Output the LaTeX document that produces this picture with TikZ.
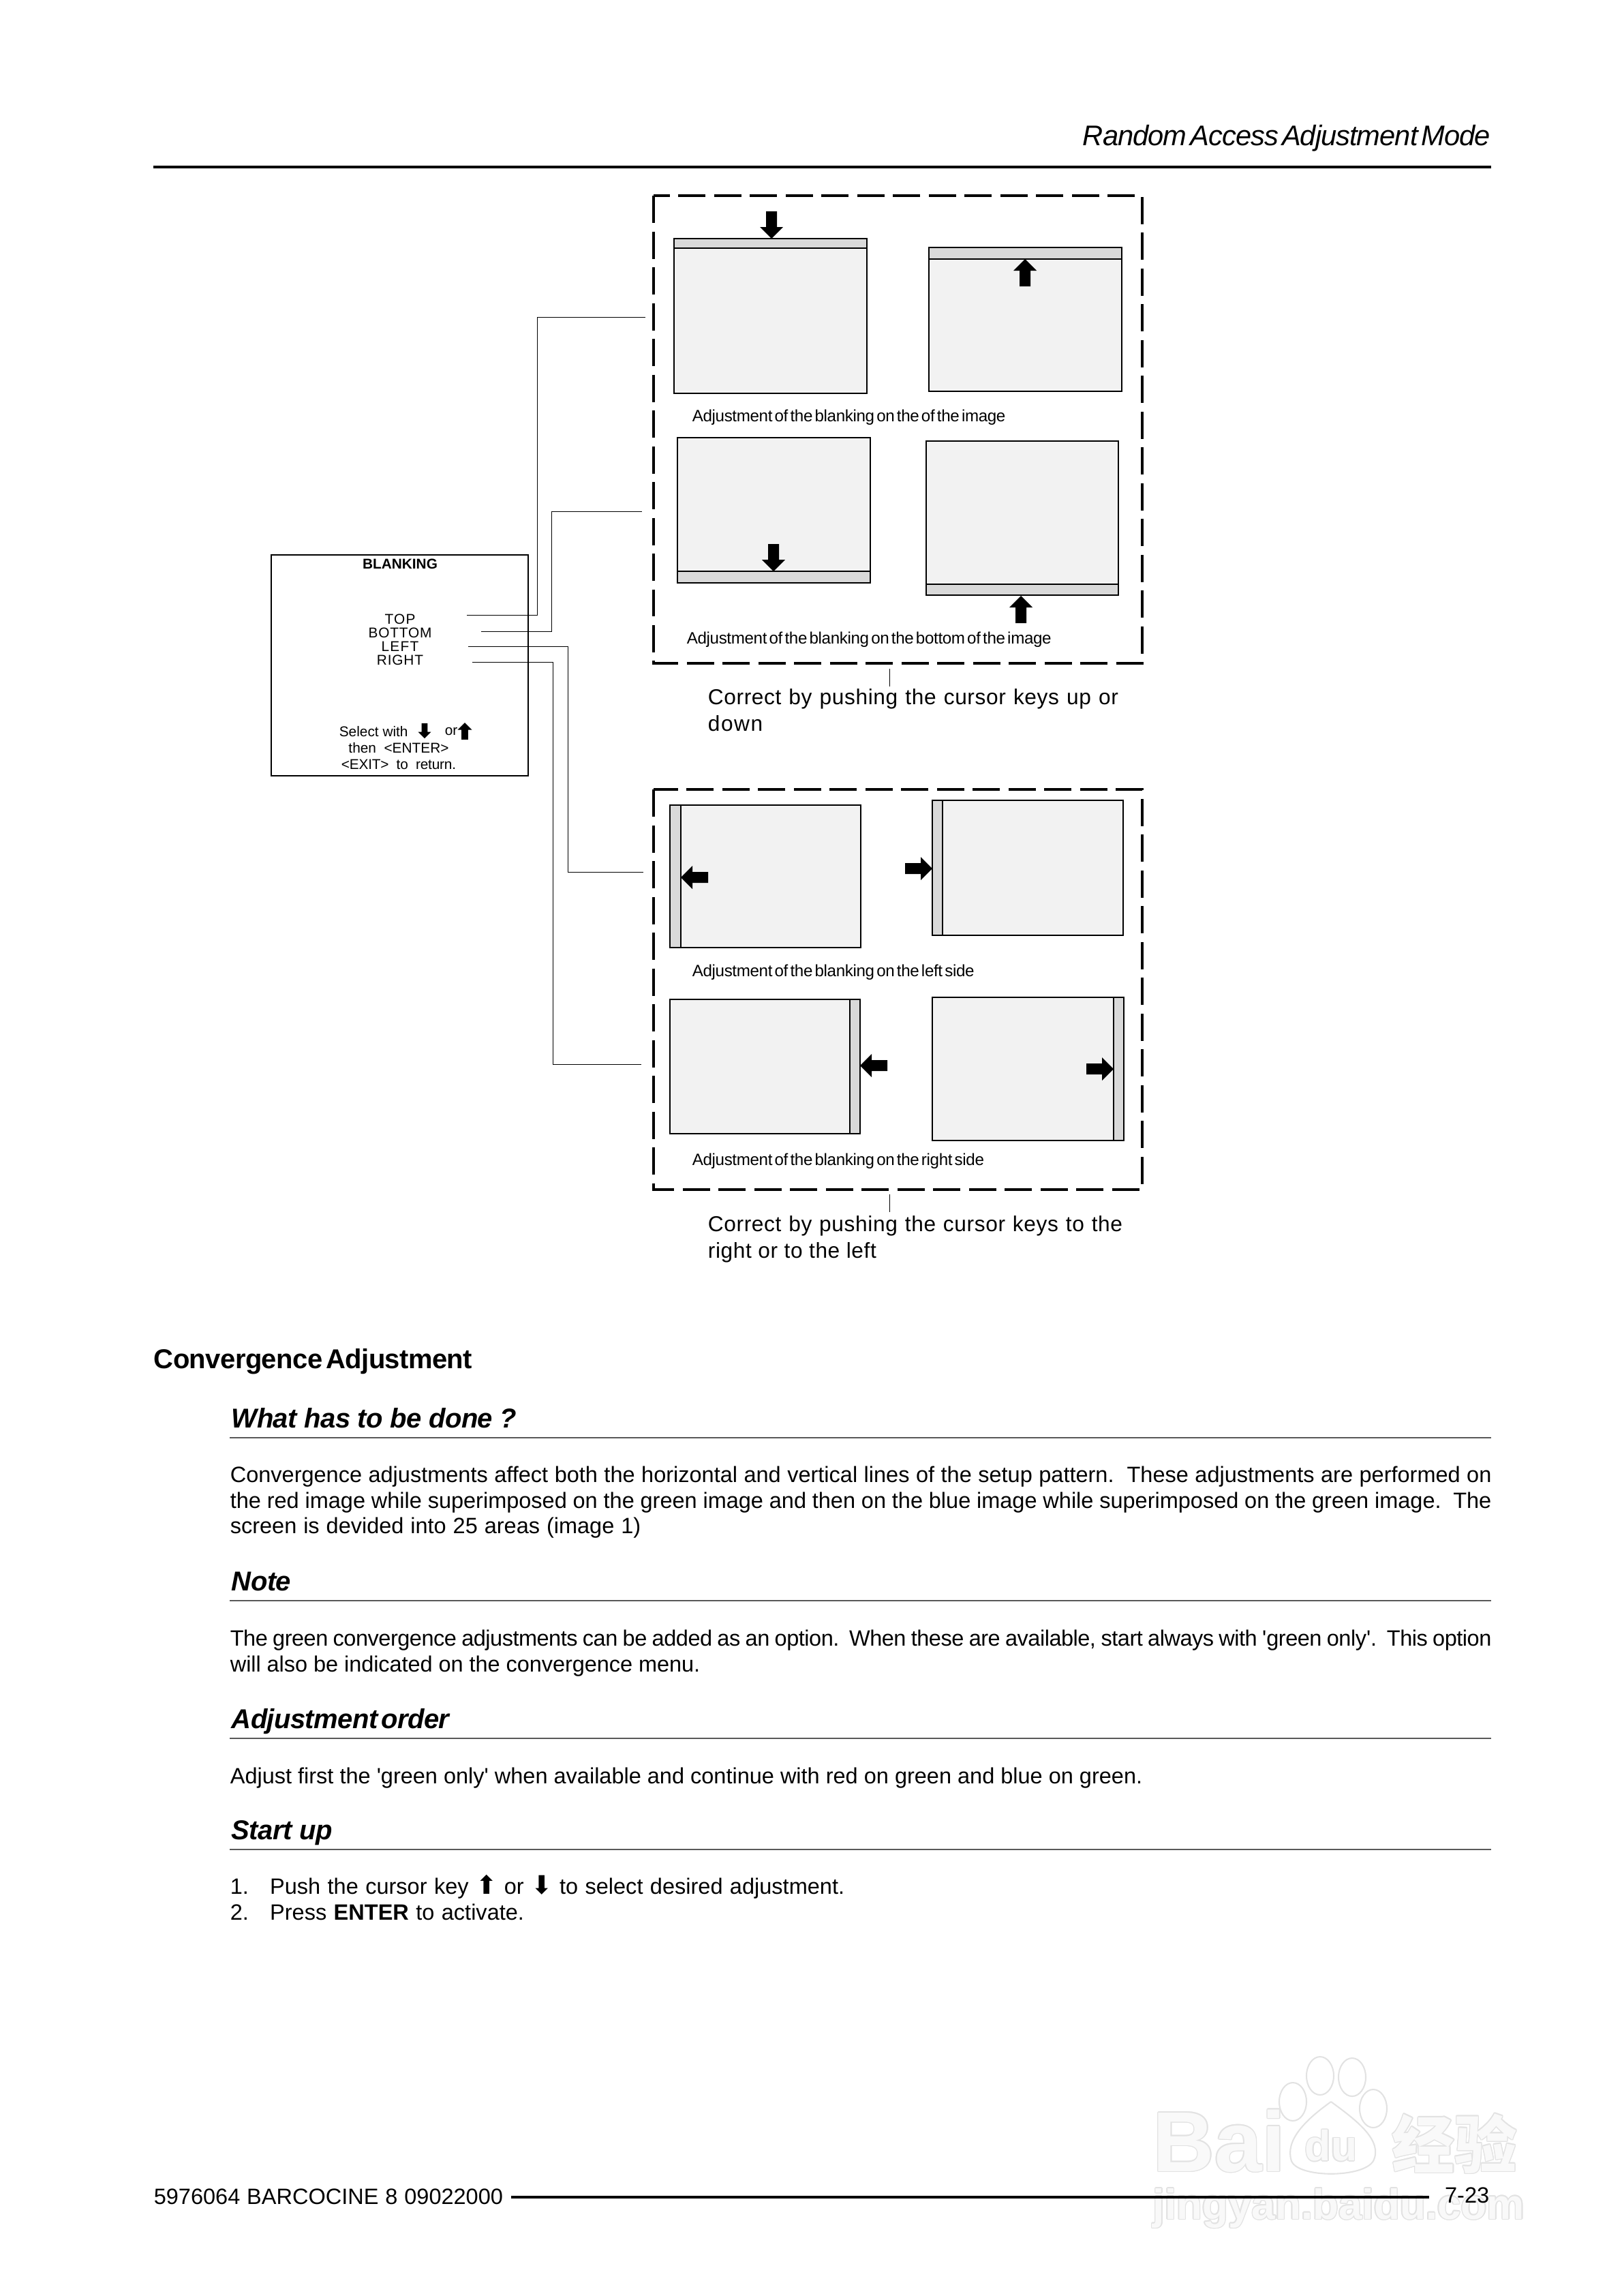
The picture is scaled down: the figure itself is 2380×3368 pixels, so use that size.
\documentclass[tikz,border=0pt]{standalone}
\usepackage{fontspec}
\setmainfont{Liberation Sans}
\newfontfamily\tightfont[LetterSpace=-1.5,WordSpace=0.5]{Liberation Sans}
\newfontfamily\headfont[LetterSpace=-1.4]{Liberation Sans}
\newfontfamily\widefont[WordSpace=1.1]{Liberation Sans}
\newfontfamily\listfont[LetterSpace=0.05,WordSpace=1.15]{Liberation Sans}
\newfontfamily\arrowfont{DejaVu Sans}
\newfontfamily\cjkfont{Noto Sans CJK SC}
\usepackage{xcolor}
\usepackage{contour}
\contournumber{16}
\contourlength{0.35pt}
\usepackage{tikz}
\usetikzlibrary{positioning,arrows.meta,calc}

\definecolor{screenfill}{HTML}{F2F2F2}
\definecolor{bandfill}{HTML}{D9D9D9}
\definecolor{markcolor}{HTML}{E2E2E2}

\newcommand{\keyarrow}[4][1]{\fill[shift={(#2,#3)},rotate=#4,scale=#1] (0,0) -- (-17,-17) -- (-8,-17) -- (-8,-40) -- (8,-40) -- (8,-17) -- (17,-17) -- cycle;}
\newcommand{\markword}[1]{\textcolor{white}{\contour{markcolor}{#1}}}
\newcommand{\upkey}{\smash{\fontsize{9}{9}\selectfont\arrowfont ⬆}}
\newcommand{\downkey}{\smash{\fontsize{9}{9}\selectfont\arrowfont ⬇}}

\tikzset{
  screen/.style={draw=black, fill=screenfill, line width=0.3pt},
  band/.style={draw=black, fill=bandfill, line width=0.3pt},
  dashbox/.style={draw=black, line width=1.1pt, dash pattern=on 9.6pt off 3pt},
  leader/.style={draw=black, line width=0.22pt},
  toprule/.style={draw=black, line width=0.9pt},
  headrule/.style={draw=black!65, line width=0.3pt},
  menutext/.style={inner sep=0pt, font=\fontsize{5}{5}\selectfont},
  captext/.style={inner sep=0pt, anchor=base west, font=\fontsize{5.8}{6}\selectfont\tightfont},
  corrtext/.style={inner sep=0pt, anchor=north west, align=justify, font=\fontsize{7.6}{9.4}\selectfont\addfontfeature{LetterSpace=2}},
  heading/.style={inner sep=0pt, anchor=base west, font=\fontsize{9.6}{11}\selectfont\headfont\bfseries\itshape},
  bodytext/.style={inner sep=0pt, anchor=north west, text width=444.2pt, align=justify, font=\fontsize{7.8}{9.05}\selectfont},
  wmark/.style={inner sep=0pt, opacity=0.8, text opacity=0.8},
}

\begin{document}
\begin{tikzpicture}[x=0.24pt, y=-0.24pt]
  \useasboundingbox (0,0) rectangle (2380,3368);

  \node[wmark, anchor=base west, font=\fontsize{30}{30}\selectfont\bfseries] (markbai) at (1691,3185) {\markword{Bai}};
  \node[wmark, font=\fontsize{15}{15}\selectfont\bfseries] (markdu) at (1953,3148) {\markword{du}};
  \node[wmark, anchor=base west, font=\fontsize{22}{22}\selectfont\cjkfont\bfseries] (markjy) at (2042,3180) {\markword{经验}};
  \node[wmark, anchor=base west, font=\fontsize{14.9}{16}\selectfont\bfseries] (markurl) at (1691,3255) {\markword{jingyan.baidu.com}};
  \foreach \pawx/\pawy in {1897/3083, 1937/3045, 1984/3047, 2015/3093}
    \draw[markcolor, line width=0.5pt] (\pawx,\pawy) ellipse [x radius=20, y radius=28];
  \draw[markcolor, line width=0.5pt] (1953,3083) .. controls (1915,3110) and (1885,3140) .. (1895,3170) .. controls (1905,3195) and (2000,3195) .. (2015,3170) .. controls (2030,3140) and (1990,3110) .. (1953,3083);

  \node[inner sep=0pt, anchor=base east, font=\fontsize{10}{12}\selectfont\itshape\tightfont\addfontfeature{LetterSpace=-2.4}] (pagetitle) at (2188,213) {Random Access Adjustment Mode};
  \draw[toprule] (225,245) -- (2188,245);

  \draw[dashbox] (959,287) rectangle (1676,973);
  \draw[screen] (989,350) rectangle (1272,577);
  \draw[band] (989,350) rectangle (1272,364);
  \draw[screen] (1363,363) rectangle (1646,574);
  \draw[band] (1363,363) rectangle (1646,380);
  \draw[screen] (994,642) rectangle (1277,855);
  \draw[band] (994,838) rectangle (1277,855);
  \draw[screen] (1359,647) rectangle (1641,873);
  \draw[band] (1359,857) rectangle (1641,873);
  \keyarrow{1132}{350}{0}
  \keyarrow{1504}{380}{180}
  \keyarrow{1135}{838}{0}
  \keyarrow{1498}{874}{180}
  \node[captext] (captop) at (1015,618) {Adjustment of the blanking on the of the image};
  \node[captext] (capbottom) at (1007,944) {Adjustment of the blanking on the bottom of the image};
  \coordinate (tickup) at (1305.5,981);
  \coordinate (tickupend) at (1305.5,1007);
  \draw[leader] (tickup) -- (tickupend);
  \node[corrtext, text width=144.5pt] (corrup) at (1038,1010) {Correct by pushing the cursor keys up or\linebreak \addfontfeature{LetterSpace=5}down};

  \draw[dashbox] (959,1158) rectangle (1676,1745);
  \draw[screen] (983,1181) rectangle (1263,1390);
  \draw[band] (983,1181) rectangle (999,1390);
  \draw[screen] (1368,1174) rectangle (1648,1372);
  \draw[band] (1368,1174) rectangle (1383,1372);
  \draw[screen] (983,1466) rectangle (1262,1663);
  \draw[band] (1247,1466) rectangle (1262,1663);
  \draw[screen] (1368,1463) rectangle (1649,1673);
  \draw[band] (1634,1463) rectangle (1649,1673);
  \keyarrow{999}{1287}{-90}
  \keyarrow{1368}{1274}{90}
  \keyarrow{1262}{1563}{-90}
  \keyarrow{1634}{1568}{90}
  \node[captext] (capleft) at (1015,1432) {Adjustment of the blanking on the left side};
  \node[captext] (capright) at (1015,1709) {Adjustment of the blanking on the right side};
  \coordinate (tickdown) at (1305.5,1752);
  \coordinate (tickdownend) at (1305.5,1778);
  \draw[leader] (tickdown) -- (tickdownend);
  \node[corrtext, text width=146pt] (corrdown) at (1038,1783) {Correct by pushing the cursor keys to the\linebreak right or to the left};

  \draw[line width=0.7pt] (398,814) rectangle (775,1138);
  \node[menutext, font=\fontsize{5}{5}\selectfont\bfseries] (menutitle) at (587,827) {BLANKING};
  \node[menutext] (menutop) at (587,908) {\addfontfeature{LetterSpace=6}TOP};
  \node[menutext] (menubottom) at (587,928) {\addfontfeature{LetterSpace=4}BOTTOM};
  \node[menutext] (menuleft) at (587,948) {\addfontfeature{LetterSpace=6}LEFT};
  \node[menutext] (menuright) at (587,968) {\addfontfeature{LetterSpace=4}RIGHT};
  \node[menutext, anchor=west] (menuselect) at (497,1073) {Select with};
  \node[menutext, anchor=west] (menuor) at (652,1073) {or};
  \keyarrow[0.55]{623}{1083}{0}
  \keyarrow[0.62]{682}{1060}{180}
  \node[menutext] (menuthen) at (585,1097) {then\ \ \textless ENTER\textgreater};
  \node[menutext] (menuexit) at (585,1121) {\addfontfeature{LetterSpace=-1}\textless EXIT\textgreater\ \ to\ \ return.};

  \coordinate (topstart) at (685,902);
  \coordinate (topend) at (947,465);
  \coordinate (bottomstart) at (706,926);
  \coordinate (bottomend) at (942,750);
  \coordinate (leftstart) at (687,948);
  \coordinate (leftend) at (944,1279);
  \coordinate (rightstart) at (693,971);
  \coordinate (rightend) at (941,1561);
  \draw[leader] (topstart) -| (788,465) -- (topend);
  \draw[leader] (bottomstart) -| (809,750) -- (bottomend);
  \draw[leader] (leftstart) -| (833.5,1279) -- (leftend);
  \draw[leader] (rightstart) -| (811,1561) -- (rightend);

  \node[inner sep=0pt, anchor=base west, font=\fontsize{9.6}{11}\selectfont\tightfont\bfseries] (section) at (225,2007) {Convergence Adjustment};

  \node[heading] (donehead) at (339,2094) {What has to be done ?};
  \draw[headrule] (337,2109) -- (2188,2109);
  \node[bodytext] (donebody) at (337,2150) {Convergence adjustments affect both the horizontal and vertical lines of the setup pattern.\ \ These adjustments are performed on\linebreak the red image while superimposed on the green image and then on the blue image while superimposed on the green image.\ \ The\linebreak {\widefont screen is devided into 25 areas (image 1)}};

  \node[heading] (notehead) at (339,2333) {Note};
  \draw[headrule] (337,2348) -- (2188,2348);
  \node[bodytext] (notebody) at (337,2390) {{\addfontfeature{LetterSpace=-1.5}The green convergence adjustments can be added as an option.\ \ When these are available, start always with \textquotesingle green only\textquotesingle.\ \ This option}\linebreak {\addfontfeature{LetterSpace=-0.2}will also be indicated on the convergence menu.}};

  \node[heading, font=\fontsize{9.6}{11}\selectfont\tightfont\bfseries\itshape] (orderhead) at (339,2535) {Adjustment order};
  \draw[headrule] (337,2550) -- (2188,2550);
  \node[bodytext] (orderbody) at (337,2592) {Adjust first the \textquotesingle green only\textquotesingle\ when available and continue with red on green and blue on green.};

  \node[heading] (starthead) at (339,2698) {Start up};
  \draw[headrule] (337,2713) -- (2188,2713);
  \node[bodytext] (startone) at (337,2754) {\listfont 1.\ \ \ Push the cursor key \upkey{} or \downkey{} to select desired adjustment.};
  \node[bodytext] (starttwo) at (337,2792) {\listfont 2.\ \ \ Press \textbf{ENTER} to activate.};

  \node[inner sep=0pt, anchor=base west, font=\fontsize{7.8}{9}\selectfont\widefont] (footleft) at (225,3233) {5976064 BARCOCINE 8 09022000};
  \node[inner sep=0pt, anchor=base east, font=\fontsize{7.8}{9}\selectfont] (footright) at (2186,3231) {7-23};
  \draw[line width=1pt] (750,3223) -- (2097,3223);
\end{tikzpicture}
\end{document}
